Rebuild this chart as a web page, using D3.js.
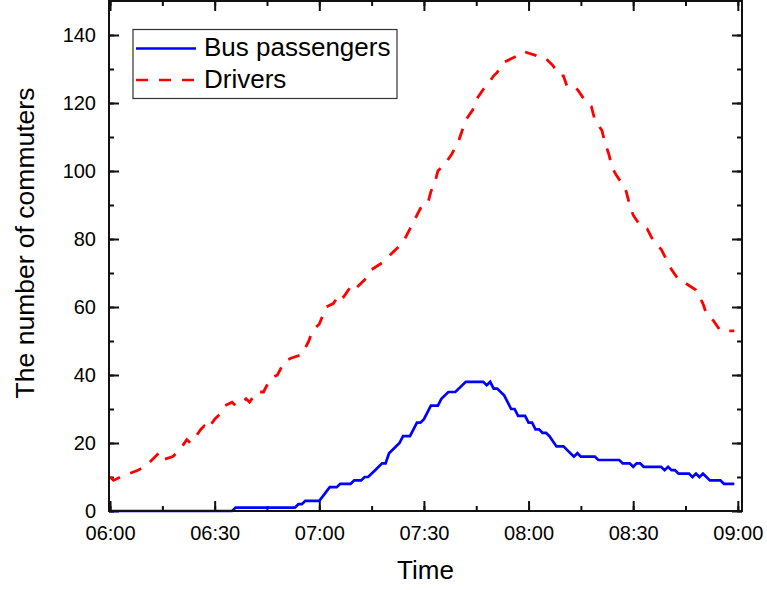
<!DOCTYPE html>
<html>
<head>
<meta charset="utf-8">
<script src="https://cdn.jsdelivr.net/npm/d3@7"></script>
<style>
  body { margin: 0; background: #fff; }
  svg text { font-family: "Liberation Sans", Arial, sans-serif; fill: #000; }
</style>
</head>
<body>
<div id="chart"></div>
<script>
// Values (time of day, number of commuters).
var busTimes = ["06:00","06:35","06:36","06:53","06:54","06:55","06:56","07:00","07:03","07:05","07:06","07:09","07:10","07:12","07:13","07:14","07:16","07:18","07:19","07:20","07:23","07:24","07:26","07:27","07:28","07:29","07:30","07:32","07:34","07:35","07:37","07:39","07:42","07:47","07:48","07:49","07:50","07:51","07:53","07:54","07:55","07:56","07:57","07:59","08:00","08:01","08:02","08:03","08:04","08:05","08:06","08:08","08:10","08:13","08:14","08:15","08:19","08:20","08:26","08:27","08:29","08:30","08:31","08:32","08:33","08:38","08:39","08:40","08:41","08:42","08:43","08:46","08:47","08:48","08:49","08:50","08:51","08:52","08:55","08:56","08:59"];
var busValues = [0,0,1,1,2,2,3,3,7,7,8,8,9,9,10,10,12,14,14,17,20,22,22,24,26,26,27,31,31,33,35,35,38,38,37,38,36,36,34,32,30,30,28,28,26,26,24,24,23,23,22,19,19,16,17,16,16,15,15,14,14,13,14,14,13,13,12,13,12,12,11,11,10,11,10,11,10,9,9,8,8];

var driverTimes = ["06:00","06:01","06:03","06:08","06:10","06:12","06:14","06:15","06:18","06:20","06:22","06:23","06:24","06:26","06:27","06:28","06:30","06:32","06:33","06:35","06:36","06:38","06:39","06:40","06:42","06:44","06:46","06:48","06:50","06:52","06:55","06:57","06:58","07:00","07:02","07:04","07:06","07:07","07:09","07:10","07:13","07:15","07:18","07:19","07:22","07:24","07:26","07:27","07:29","07:31","07:32","07:33","07:34","07:36","07:38","07:40","07:41","07:42","07:44","07:45","07:47","07:48","07:50","07:51","07:53","07:55","07:57","07:58","07:59","08:02","08:04","08:05","08:07","08:09","08:10","08:11","08:13","08:14","08:16","08:18","08:19","08:21","08:22","08:23","08:24","08:25","08:27","08:28","08:29","08:30","08:32","08:34","08:36","08:38","08:40","08:41","08:43","08:45","08:48","08:50","08:51","08:53","08:55","08:59"];
var driverValues = [10,9,10,12,13,15,17,15,16,18,21,20,21,24,25,24,27,29,31,32,31,32,33,32,35,35,39,40,44,45,46,50,53,55,60,61,64,63,66,65,68,71,73,74,77,79,83,85,89,90,94,96,100,102,105,109,112,115,118,121,124,125,128,129,132,133,134,134,135,134,133,133,131,128,128,125,125,124,121,119,115,112,108,105,101,99,96,94,90,87,84,83,79,77,73,71,68,67,65,61,58,56,53,53];

var yTicks = [0, 20, 40, 60, 80, 100, 120, 140];

var W = 767, H = 590;
var margin = { left: 109, right: 742, top: 1, bottom: 511 };

var parse = d3.timeParse("%H:%M");
var fmt = d3.timeFormat("%H:%M");
var t0 = parse("06:00");
var t1 = parse("09:00");

var busData = busTimes.map(function(t, i) { return { t: parse(t), v: busValues[i] }; });
var driverData = driverTimes.map(function(t, i) { return { t: parse(t), v: driverValues[i] }; });

var svg = d3.select("#chart").append("svg")
  .attr("width", W)
  .attr("height", H);

var x = d3.scaleTime()
  .domain([new Date(t0.getTime() - 18000), new Date(t1.getTime() + 72000)])
  .range([margin.left, margin.right]);

var y = d3.scaleLinear()
  .domain([0, 150])
  .range([margin.bottom, margin.top]);

var majorX = d3.timeMinute.every(30).range(t0, new Date(t1.getTime() + 1));
var minorX = d3.timeMinute.every(15).range(t0, new Date(t1.getTime() + 1));
var minorY = d3.range(0, 150, 10);

function styleAxis(g) {
  g.attr("font-size", null).attr("font-family", null);
  g.select(".domain").remove();
  g.selectAll(".tick line").attr("stroke", "#111").attr("stroke-width", 2);
  g.selectAll(".tick text").style("font-size", "20px").attr("fill", "#000");
}

// Bottom axis with labels
svg.append("g")
  .attr("transform", "translate(0," + margin.bottom + ")")
  .call(d3.axisBottom(x).tickValues(minorX).tickSize(-5).tickFormat(""))
  .call(styleAxis);
svg.append("g")
  .attr("transform", "translate(0," + margin.bottom + ")")
  .call(d3.axisBottom(x).tickValues(majorX).tickSize(-10).tickPadding(15).tickFormat(fmt))
  .call(styleAxis);

// Top axis (mirror ticks)
svg.append("g")
  .attr("transform", "translate(0," + margin.top + ")")
  .call(d3.axisTop(x).tickValues(minorX).tickSize(-5).tickFormat(""))
  .call(styleAxis);
svg.append("g")
  .attr("transform", "translate(0," + margin.top + ")")
  .call(d3.axisTop(x).tickValues(majorX).tickSize(-10).tickFormat(""))
  .call(styleAxis);

// Left axis with labels
svg.append("g")
  .attr("transform", "translate(" + margin.left + ",0)")
  .call(d3.axisLeft(y).tickValues(minorY).tickSize(-5).tickFormat(""))
  .call(styleAxis);
svg.append("g")
  .attr("transform", "translate(" + margin.left + ",0)")
  .call(d3.axisLeft(y).tickValues(yTicks).tickSize(-10).tickPadding(13))
  .call(styleAxis);

// Right axis (mirror ticks)
svg.append("g")
  .attr("transform", "translate(" + margin.right + ",0)")
  .call(d3.axisRight(y).tickValues(minorY).tickSize(-5).tickFormat(""))
  .call(styleAxis);
svg.append("g")
  .attr("transform", "translate(" + margin.right + ",0)")
  .call(d3.axisRight(y).tickValues(yTicks).tickSize(-10).tickFormat(""))
  .call(styleAxis);

// Lines
var line = d3.line()
  .x(function(d) { return x(d.t); })
  .y(function(d) { return y(d.v); });

svg.append("path")
  .datum(driverData)
  .attr("d", line)
  .attr("fill", "none")
  .attr("stroke", "#ff0000")
  .attr("stroke-width", 2.8)
  .attr("stroke-dasharray", "12,11");

svg.append("path")
  .datum(busData)
  .attr("d", line)
  .attr("fill", "none")
  .attr("stroke", "#0000ff")
  .attr("stroke-width", 2.7);

// Frame
svg.append("rect")
  .attr("x", margin.left)
  .attr("y", margin.top)
  .attr("width", margin.right - margin.left)
  .attr("height", margin.bottom - margin.top)
  .attr("fill", "none")
  .attr("stroke", "#111")
  .attr("stroke-width", 2);

// Axis titles
svg.append("text")
  .attr("x", (margin.left + margin.right) / 2)
  .attr("y", 579)
  .style("text-anchor", "middle")
  .style("font-size", "26px")
  .text("Time");

svg.append("text")
  .attr("transform", "translate(34,243) rotate(-90)")
  .style("text-anchor", "middle")
  .style("font-size", "26.5px")
  .text("The number of commuters");

// Legend
var legend = svg.append("g");
legend.append("rect")
  .attr("x", 133).attr("y", 29.5)
  .attr("width", 264).attr("height", 69)
  .attr("fill", "#fff")
  .attr("stroke", "#333")
  .attr("stroke-width", 1.2);

var legendItems = [
  { label: "Bus passengers", color: "#0000ff", dash: null, yy: 48.5 },
  { label: "Drivers", color: "#ff0000", dash: "12,11", yy: 80 }
];

legendItems.forEach(function(item) {
  legend.append("line")
    .attr("x1", 136).attr("x2", 196)
    .attr("y1", item.yy).attr("y2", item.yy)
    .attr("stroke", item.color)
    .attr("stroke-width", 2.7)
    .attr("stroke-dasharray", item.dash);
  legend.append("text")
    .attr("x", 204)
    .attr("y", item.yy + 7.5)
    .style("font-size", "26px")
    .text(item.label);
});
</script>
</body>
</html>
